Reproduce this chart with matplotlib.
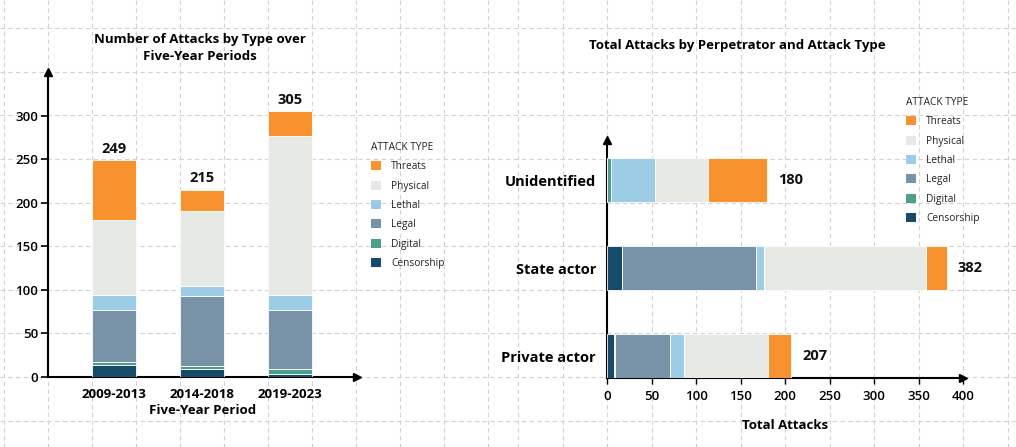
import matplotlib
matplotlib.use("Agg")
import matplotlib.pyplot as plt
from matplotlib.patches import Patch
import numpy as np

plt.rcParams['font.family'] = ['Open Sans', 'DejaVu Sans']

# ---------------- data ----------------
types = ["Censorship", "Digital", "Legal", "Lethal", "Physical", "Threats"]
colors = ["#164B69", "#4F9D8B", "#7892A7", "#9DCDE6", "#E7E9E5", "#F7922E"]

periods = ["2009-2013", "2014-2018", "2019-2023"]
period_censorship = [14, 9, 4]
period_digital = [3, 4, 5]
period_legal = [60, 80, 68]
period_lethal = [17, 12, 17]
period_physical = [86, 85, 182]
period_threats = [69, 25, 29]

perpetrators = ["Private actor", "State actor", "Unidentified"]
perp_censorship = [8, 17, 0]
perp_digital = [1, 0, 5]
perp_legal = [62, 150, 0]
perp_lethal = [16, 9, 49]
perp_physical = [94, 182, 59]
perp_threats = [26, 24, 67]

W, H = 1016, 447
fig = plt.figure(figsize=(W / 100, H / 100), dpi=100)
fig.patch.set_facecolor("white")

# ---------------- background graph-paper grid ----------------
bg = fig.add_axes([0, 0, 1, 1], zorder=-5)
bg.set_xlim(0, W)
bg.set_ylim(H, 0)
bg.axis("off")
gcol = "#d2d2d2"
dash = (0, (4, 3))
for k in range(-1, 11):
    yy = 377 - 43.6 * k
    bg.plot([0, W], [yy, yy], color=gcol, lw=0.8, ls=dash)
for k in range(-1, 11):
    xx = 48 + 44 * k
    if xx < 495:
        bg.plot([xx, xx], [0, H], color=gcol, lw=0.8, ls=dash)
for k in range(-3, 10):
    xx = 607 + 44.5 * k
    if 500 < xx < W:
        bg.plot([xx, xx], [0, H], color=gcol, lw=0.8, ls=dash)

def px_axes(x0, y_top, x1, y_bot):
    return fig.add_axes([x0 / W, (H - y_bot) / H, (x1 - x0) / W, (y_bot - y_top) / H])

# ---------------- left chart ----------------
ax1 = px_axes(48, 72, 357, 377)
ax1.patch.set_alpha(0)
xpos = np.arange(len(periods))
period_series = [period_censorship, period_digital, period_legal,
                 period_lethal, period_physical, period_threats]
bottom = np.zeros(len(periods))
for vals, c in zip(period_series, colors):
    ax1.bar(xpos, vals, bottom=bottom, width=0.5, color=c,
            edgecolor="white", linewidth=0.6, zorder=3)
    bottom += np.array(vals)
for x, t in zip(xpos, bottom):
    ax1.text(x, t + 5, f"{int(t)}", ha="center", va="bottom",
             fontsize=10.5, fontweight="bold", color="#111111")
ax1.set_xlim(-0.75, 2.76)
ax1.set_ylim(0, 350)
ax1.set_yticks(range(0, 301, 50))
ax1.set_xticks(xpos)
ax1.set_xticklabels(periods, fontsize=9.5, fontweight="bold")
ax1.tick_params(axis="x", length=0, pad=8)
ax1.tick_params(axis="y", length=5, width=1.2, labelsize=9.5, pad=2)
for lab in ax1.get_yticklabels():
    lab.set_fontweight("semibold")
for s in ["top", "right"]:
    ax1.spines[s].set_visible(False)
for s in ["left", "bottom"]:
    ax1.spines[s].set_linewidth(1.5)
    ax1.spines[s].set_color("black")
ax1.plot(1, 0, ">", color="black", ms=6, transform=ax1.transAxes, clip_on=False)
ax1.plot(0, 1, "^", color="black", ms=6, transform=ax1.transAxes, clip_on=False)
ax1.set_xlabel("Five-Year Period", fontsize=9.5, fontweight="bold", labelpad=2)
fig.text(200 / W, 1 - 48 / H, "Number of Attacks by Type over\nFive-Year Periods",
         ha="center", va="center", fontsize=9.5, fontweight="bold", linespacing=1.45)

handles = [Patch(facecolor=c, edgecolor="none", label=t) for t, c in zip(types, colors)][::-1]

def make_legend(ax, x, y):
    leg = ax.legend(handles=handles, title="ATTACK TYPE", loc="upper left",
                    bbox_to_anchor=(x / W, 1 - y / H), bbox_transform=fig.transFigure,
                    frameon=False, fontsize=7.3, title_fontsize=7.3,
                    handlelength=1.0, handleheight=1.0, handletextpad=1.0,
                    labelspacing=0.82, borderpad=0, alignment="left")
    leg.get_title().set_color("#222222")
    for t in leg.get_texts():
        t.set_color("#222222")
    return leg

make_legend(ax1, 366, 137)

# ---------------- right chart ----------------
ax2 = px_axes(607, 140, 963, 378)
ax2.patch.set_alpha(0)
ypos = np.arange(len(perpetrators))
perp_series = [perp_censorship, perp_digital, perp_legal,
               perp_lethal, perp_physical, perp_threats]
left = np.zeros(len(perpetrators))
for vals, c in zip(perp_series, colors):
    ax2.barh(ypos, vals, left=left, height=0.5, color=c,
             edgecolor="white", linewidth=0.6, zorder=3)
    left += np.array(vals)
for y, t in zip(ypos, left):
    ax2.text(t + 12, y, f"{int(t)}", ha="left", va="center",
             fontsize=10.5, fontweight="bold", color="#111111")
ax2.set_xlim(0, 400)
ax2.set_ylim(-0.25, 2.46)
ax2.set_xticks(range(0, 401, 50))
ax2.set_yticks(ypos)
ax2.set_yticklabels(perpetrators, fontsize=10.5, fontweight="bold")
ax2.tick_params(axis="y", length=0, pad=8)
ax2.tick_params(axis="x", length=4, width=1.0, labelsize=9.5, pad=5)
for lab in ax2.get_xticklabels():
    lab.set_fontweight("semibold")
for s in ["top", "right"]:
    ax2.spines[s].set_visible(False)
for s in ["left", "bottom"]:
    ax2.spines[s].set_linewidth(1.5)
    ax2.spines[s].set_color("black")
ax2.plot(1, 0, ">", color="black", ms=6, transform=ax2.transAxes, clip_on=False)
ax2.plot(0, 1, "^", color="black", ms=6, transform=ax2.transAxes, clip_on=False)
ax2.set_xlabel("Total Attacks", fontsize=9.5, fontweight="bold", labelpad=11)
fig.text(737 / W, 1 - 46 / H, "Total Attacks by Perpetrator and Attack Type",
         ha="center", va="center", fontsize=9.5, fontweight="bold")

make_legend(ax2, 901, 92)

fig.savefig("out.png", dpi=100, facecolor="white")
